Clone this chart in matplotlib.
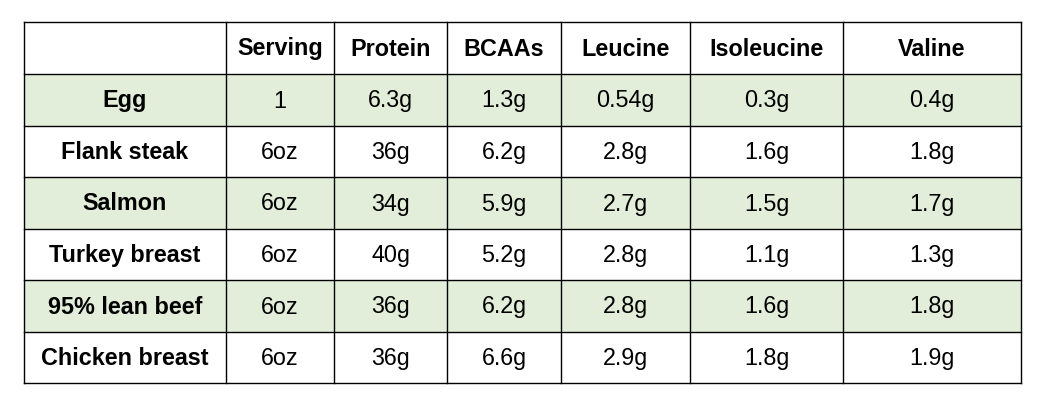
import matplotlib
matplotlib.use("Agg")
import matplotlib.pyplot as plt
from matplotlib.patches import Rectangle

columns = ["", "Serving", "Protein", "BCAAs", "Leucine", "Isoleucine", "Valine"]
foods = ["Egg", "Flank steak", "Salmon", "Turkey breast", "95% lean beef", "Chicken breast"]
serving = ["1", "6oz", "6oz", "6oz", "6oz", "6oz"]
protein = ["6.3g", "36g", "34g", "40g", "36g", "36g"]
bcaas = ["1.3g", "6.2g", "5.9g", "5.2g", "6.2g", "6.6g"]
leucine = ["0.54g", "2.8g", "2.7g", "2.8g", "2.8g", "2.9g"]
isoleucine = ["0.3g", "1.6g", "1.5g", "1.1g", "1.6g", "1.8g"]
valine = ["0.4g", "1.8g", "1.7g", "1.3g", "1.8g", "1.9g"]

xb = [24, 226, 334, 447, 561, 690, 843, 1021]
yb = [22, 74, 126, 177, 229, 280, 332, 383]
green = "#e2eed9"

fig = plt.figure(figsize=(10.44, 4), dpi=100)
ax = fig.add_axes([0, 0, 1, 1])
ax.set_xlim(0, 1044); ax.set_ylim(400, 0); ax.axis("off")
plt.rcParams['font.family'] = ['Liberation Sans', 'DejaVu Sans']

rows = [columns] + [[foods[i], serving[i], protein[i], bcaas[i], leucine[i], isoleucine[i], valine[i]] for i in range(len(foods))]
for r, row in enumerate(rows):
    if r in (1, 3, 5):
        ax.add_patch(Rectangle((xb[0], yb[r]), xb[-1]-xb[0], yb[r+1]-yb[r], facecolor=green, edgecolor="none"))
    for c, txt in enumerate(row):
        bold = (r == 0 or c == 0)
        ax.text((xb[c]+xb[c+1])/2, (yb[r]+yb[r+1])/2 + 1, txt, ha="center", va="center",
                fontsize=16.8, fontweight="bold" if bold else "normal", color="black")
for x in xb:
    ax.plot([x, x], [yb[0], yb[-1]], color="black", lw=1)
for y in yb:
    ax.plot([xb[0], xb[-1]], [y, y], color="black", lw=1)
fig.savefig("out.png", dpi=100)
